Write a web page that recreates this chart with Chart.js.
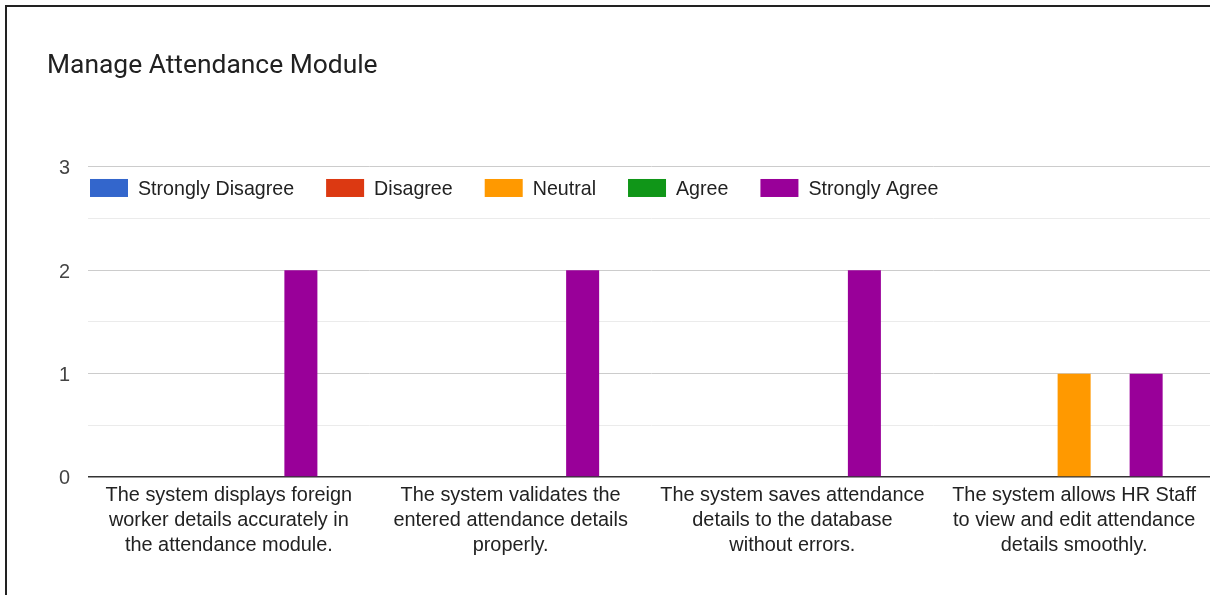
<!DOCTYPE html>
<html>
<head>
<meta charset="utf-8">
<title>Manage Attendance Module</title>
<script src="https://cdn.jsdelivr.net/npm/chart.js@4.4.1/dist/chart.umd.min.js"></script>
<style>
  html, body { margin: 0; padding: 0; background: #fff; overflow: hidden; }
  #frame {
    position: absolute;
    left: 5px;
    top: 5px;
    width: 1220px;
    height: 590px;
    border-left: 2px solid #222;
    border-top: 2px solid #222;
  }
</style>
</head>
<body>
<div id="frame"><canvas id="chart"></canvas></div>
<script>
const questions = [
    ['The system displays foreign', 'worker details accurately in', 'the attendance module.'],
    ['The system validates the', 'entered attendance details', 'properly.'],
    ['The system saves attendance', 'details to the database', 'without errors.'],
    ['The system allows HR Staff', 'to view and edit attendance', 'details smoothly.']
];
const answerLabels = ['Strongly Disagree', 'Disagree', 'Neutral', 'Agree', 'Strongly Agree'];
const answerColors = ['#3366cc', '#dc3912', '#ff9900', '#109618', '#990099'];

// response counts per answer, one entry per question
const stronglyDisagree = [0, 0, 0, 0];
const disagree = [0, 0, 0, 0];
const neutral = [0, 0, 0, 1];
const agree = [0, 0, 0, 0];
const stronglyAgree = [2, 2, 2, 1];

const yMax = 3;
const yStep = 0.5;

const FONT = 'Arial, "Liberation Sans", sans-serif';
const TEXT_SIZE = 19.9;
const LEGEND_SIZE = 19.65;

// legend sits inside the plot, just under the top gridline
const insideLegend = {
    id: 'insideLegend',
    afterDraw(chart) {
        const { ctx, chartArea } = chart;
        let x = chartArea.left + 2;
        const y = chartArea.top + 12;
        ctx.save();
        ctx.font = LEGEND_SIZE + 'px ' + FONT;
        ctx.textBaseline = 'middle';
        ctx.textAlign = 'left';
        chart.data.datasets.forEach(ds => {
            ctx.fillStyle = ds.backgroundColor;
            ctx.fillRect(x, y, 38, 18);
            ctx.fillStyle = '#222';
            ctx.fillText(ds.label, x + 48, y + 11);
            x += 48 + ctx.measureText(ds.label).width + 32;
        });
        ctx.restore();
    }
};

const series = [stronglyDisagree, disagree, neutral, agree, stronglyAgree];

new Chart(document.getElementById('chart'), {
    type: 'bar',
    data: {
        labels: questions,
        datasets: series.map((values, i) => ({
            label: answerLabels[i],
            data: values,
            backgroundColor: answerColors[i],
            borderWidth: 0,
            categoryPercentage: 0.639,
            barPercentage: 0.917
        }))
    },
    options: {
        responsive: true,
        maintainAspectRatio: false,
        animation: false,
        layout: { padding: { left: 40, right: 12, top: 0, bottom: 0 } },
        plugins: {
            legend: { display: false },
            tooltip: { enabled: false },
            title: {
                display: true,
                text: 'Manage Attendance Module',
                align: 'start',
                color: '#212121',
                font: { family: 'Roboto, ' + FONT, size: 26.4, weight: 'normal', lineHeight: 1.2 },
                padding: { top: 43.2, bottom: 85.1 }
            }
        },
        scales: {
            x: {
                grid: { display: false, drawTicks: false },
                border: { display: false },
                ticks: {
                    color: '#222',
                    font: { family: FONT, size: TEXT_SIZE, lineHeight: 1.26 },
                    padding: 6,
                    maxRotation: 0,
                    autoSkip: false
                },
                afterFit(scale) { scale.height = 120; }
            },
            y: {
                min: 0,
                max: yMax,
                grid: {
                    drawTicks: false,
                    color: ctx => {
                        const v = ctx.tick.value;
                        if (v === 0) return '#333';
                        return Number.isInteger(v) ? '#cccccc' : '#ebebeb';
                    },
                    lineWidth: ctx => (ctx.tick.value === 0 ? 1.5 : 1)
                },
                border: { display: false },
                ticks: {
                    stepSize: yStep,
                    color: '#444',
                    font: { family: FONT, size: TEXT_SIZE },
                    padding: 18,
                    labelOffset: 2,
                    callback: v => (Number.isInteger(v) ? v : '')
                },
                afterFit(scale) { scale.width = 41; }
            }
        }
    },
    plugins: [insideLegend]
});
</script>
</body>
</html>
